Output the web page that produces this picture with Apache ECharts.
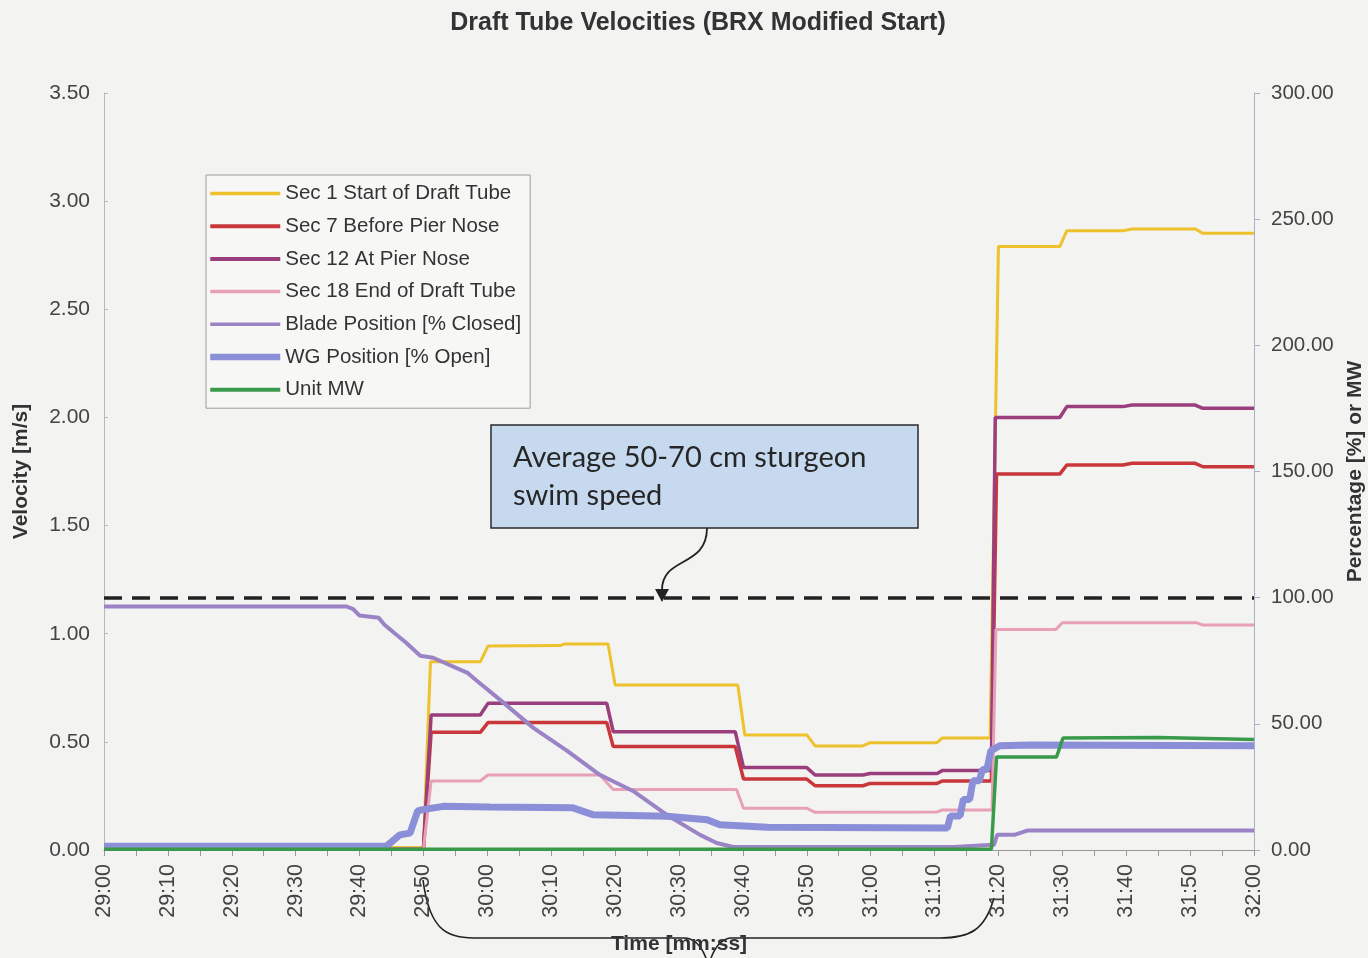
<!DOCTYPE html>
<html>
<head>
<meta charset="utf-8">
<title>Draft Tube Velocities</title>
<script src="https://cdn.jsdelivr.net/npm/echarts@6/dist/echarts.min.js"></script>
<style>
  html, body { margin: 0; padding: 0; background: #f3f3f1; }
  #chart { width: 1368px; height: 958px; }
</style>
</head>
<body>
<div id="chart"></div>
<script>
// time is seconds after 29:00
var secOneT = [0, 20, 21, 30, 31, 50, 51.1, 58.9, 60.1, 71.4, 72, 78.9, 80, 99.2, 100.3, 110, 111.3, 118.8, 119.9, 130.4, 131.2, 138.7, 140, 149.6, 150.7, 159.5, 160.9, 170.8, 172, 180]
var secOneV = [0.012, 0.012, 0.005, 0.005, 0.012, 0.012, 0.87, 0.87, 0.943, 0.945, 0.952, 0.952, 0.763, 0.763, 0.532, 0.532, 0.481, 0.481, 0.496, 0.496, 0.518, 0.518, 2.79, 2.79, 2.863, 2.863, 2.871, 2.871, 2.851, 2.851]

var secSevenT = [0, 50, 51.2, 58.9, 60.1, 78.7, 79.7, 98.8, 100.1, 110, 111.3, 118.8, 119.9, 130.4, 131.2, 138.9, 139.7, 149.6, 150.7, 159.5, 160.9, 170.8, 172, 180]
var secSevenV = [0.005, 0.005, 0.544, 0.544, 0.589, 0.589, 0.478, 0.478, 0.328, 0.328, 0.297, 0.297, 0.308, 0.308, 0.319, 0.319, 1.738, 1.738, 1.78, 1.78, 1.788, 1.788, 1.772, 1.772]

var secTwelveT = [0, 50, 51.2, 58.9, 60.1, 78.7, 79.7, 98.8, 100.1, 110, 111.3, 118.8, 119.9, 130.4, 131.2, 138.9, 139.5, 149.6, 150.7, 159.5, 160.9, 170.8, 172, 180]
var secTwelveV = [0.005, 0.005, 0.624, 0.624, 0.678, 0.678, 0.547, 0.547, 0.381, 0.381, 0.347, 0.347, 0.354, 0.354, 0.367, 0.367, 2.0, 2.0, 2.05, 2.05, 2.057, 2.057, 2.042, 2.042]

var secEighteenT = [0, 50, 51.2, 58.9, 60.1, 77.6, 79.7, 99, 100.1, 110, 111.3, 130.4, 131.2, 139, 139.6, 149, 150, 171, 172, 180]
var secEighteenV = [0.005, 0.005, 0.319, 0.319, 0.347, 0.347, 0.28, 0.28, 0.193, 0.193, 0.174, 0.176, 0.185, 0.185, 1.02, 1.02, 1.051, 1.051, 1.04, 1.04]

var bladeT = [0, 38, 39, 40, 43, 43.9, 45.4, 47.3, 49.5, 51.5, 56.9, 58.4, 62, 67.2, 72.5, 77.6, 82.8, 88.1, 93.3, 95.9, 98.5, 133, 138.5, 139.3, 139.8, 142.5, 144.5, 180]
var bladeV = [96.5, 96.5, 95.5, 92.9, 92, 89.3, 86.1, 82.1, 77, 76.2, 70.2, 67, 59.5, 48.4, 39.3, 29.8, 23.4, 13.9, 6, 2.8, 1.2, 1.2, 2, 2, 6, 6, 7.7, 7.7]

var wgT = [0, 44.2, 46.3, 47.9, 49.1, 49.9, 53.1, 60.4, 73.4, 76.5, 88.1, 94.4, 96.4, 103.8, 132, 132.5, 134, 134.5, 135.5, 136, 137, 137.5, 138.2, 138.8, 140.2, 145, 180]
var wgV = [1.5, 1.5, 6, 6.7, 15.5, 16, 17.3, 17, 16.7, 14, 13.4, 12, 10, 9, 8.7, 13.5, 13.5, 20, 20, 27.4, 27.4, 31.9, 31.9, 39.3, 41.3, 41.6, 41.3]

var mwT = [0, 138.9, 139.7, 149.1, 150.1, 165, 180]
var mwV = [0.3, 0.3, 36.9, 36.9, 44.4, 44.6, 43.8]

var swimSpeed = 100

var seriesNames = ['Sec 1 Start of Draft Tube', 'Sec 7 Before Pier Nose', 'Sec 12 At Pier Nose', 'Sec 18 End of Draft Tube', 'Blade Position [% Closed]', 'WG Position [% Open]', 'Unit MW']
var legendWidths = [3.5, 4, 4, 3.5, 3.5, 6.5, 4]

var font = 'Arial, "Liberation Sans", sans-serif'

function pairs(ts, vs) {
  return ts.map(function(t, i) { return [t, vs[i]] })
}

function timeLabel(v) {
  if (v % 10 !== 0) return ''
  var s = 29 * 60 + v
  var m = Math.floor(s / 60)
  var sec = s % 60
  return m + ':' + (sec < 10 ? '0' : '') + sec
}

function line(name, data, color, width, axis) {
  return {
    name: name,
    type: 'line',
    yAxisIndex: axis,
    symbol: 'none',
    animation: false,
    data: data,
    itemStyle: { color: color },
    lineStyle: { color: color, width: width }
  }
}

var chart = echarts.init(document.getElementById('chart'))

var series = [
  line(seriesNames[0], pairs(secOneT, secOneV), '#eec22c', 3, 0),
  line(seriesNames[1], pairs(secSevenT, secSevenV), '#c9373b', 3.5, 0),
  line(seriesNames[2], pairs(secTwelveT, secTwelveV), '#9a3e7e', 3.5, 0),
  line(seriesNames[3], pairs(secEighteenT, secEighteenV), '#e8a0b6', 3, 0),
  line(seriesNames[4], pairs(bladeT, bladeV), '#9a84c6', 4, 1),
  line(seriesNames[5], pairs(wgT, wgV), '#8b8fd8', 7, 1),
  line(seriesNames[6], pairs(mwT, mwV), '#3a9a4c', 3.5, 1)
]

series[5].markLine = {
  silent: true,
  symbol: 'none',
  label: { show: false },
  lineStyle: { color: '#222', width: 3.5, type: [18, 10] },
  data: [{ yAxis: swimSpeed }]
}

chart.setOption({
  backgroundColor: '#f3f3f1',
  animation: false,
  textStyle: { fontFamily: font },
  title: {
    text: 'Draft Tube Velocities (BRX Modified Start)',
    top: 6,
    left: 693,
    textAlign: 'center',
    textStyle: { fontFamily: font, fontSize: 25, fontWeight: 'bold', color: '#333' }
  },
  legend: {
    orient: 'vertical',
    left: 206,
    top: 175,
    data: seriesNames.map(function(n, i) {
      return { name: n, lineStyle: { width: legendWidths[i] } }
    }),
    itemWidth: 70,
    itemHeight: 14,
    itemGap: 11.7,
    padding: [8, 9, 8, 1],
    backgroundColor: '#f7f7f6',
    borderColor: '#9a9a9a',
    borderWidth: 1,
    itemStyle: { opacity: 0 },
    textStyle: { fontFamily: font, fontSize: 20.5, color: '#333' }
  },
  grid: { left: 104, right: 114, top: 93, bottom: 108, containLabel: false, outerBoundsMode: 'none' },
  xAxis: {
    type: 'value',
    min: 0,
    max: 180,
    interval: 5,
    name: 'Time [mm:ss]',
    nameLocation: 'middle',
    nameGap: 84,
    nameTextStyle: { fontFamily: font, fontSize: 21, fontWeight: 'bold', color: '#333' },
    axisLine: { lineStyle: { color: '#999' } },
    axisTick: { length: 6, lineStyle: { color: '#999' } },
    axisLabel: {
      rotate: 90,
      margin: 14,
      fontFamily: font,
      fontSize: 21.5,
      color: '#444',
      showMinLabel: true,
      showMaxLabel: true,
      formatter: timeLabel
    },
    splitLine: { show: false }
  },
  yAxis: [
    {
      type: 'value',
      min: 0,
      max: 3.5,
      interval: 0.5,
      name: 'Velocity [m/s]',
      nameLocation: 'middle',
      nameGap: 72,
      nameTextStyle: { fontFamily: font, fontSize: 21, fontWeight: 'bold', color: '#333' },
      axisLine: { show: true, lineStyle: { color: '#b8b8b8' } },
      axisTick: { show: true, inside: true, length: 4, lineStyle: { color: '#b8b8b8' } },
      axisLabel: {
        margin: 14,
        fontFamily: font,
        fontSize: 21,
        color: '#444',
        formatter: function(v) { return v.toFixed(2) }
      },
      splitLine: { show: false }
    },
    {
      type: 'value',
      min: 0,
      max: 300,
      interval: 50,
      position: 'right',
      name: 'Percentage [%] or MW',
      nameLocation: 'middle',
      nameGap: 86,
      nameRotate: 90,
      nameTextStyle: { fontFamily: font, fontSize: 21, fontWeight: 'bold', color: '#333' },
      axisLine: { show: true, lineStyle: { color: '#a8b4c4' } },
      axisTick: { show: true, length: 6, lineStyle: { color: '#a8b4c4' } },
      axisLabel: {
        margin: 17,
        fontFamily: font,
        fontSize: 20.5,
        color: '#444',
        formatter: function(v) { return v.toFixed(2) }
      },
      splitLine: { show: false }
    }
  ],
  series: series,
  graphic: [
    {
      type: 'rect',
      shape: { x: 491, y: 425, width: 427, height: 103 },
      style: { fill: '#c6d9ef', stroke: '#2a2a2a', lineWidth: 1.5 },
      z: 10
    },
    {
      type: 'text',
      x: 513,
      y: 439,
      style: {
        text: 'Average 50-70 cm sturgeon\nswim speed',
        font: '29px Lato',
        lineHeight: 38,
        fill: '#262626'
      },
      z: 11
    },
    {
      type: 'bezierCurve',
      shape: { x1: 707, y1: 528, cpx1: 707, cpy1: 568, cpx2: 662, cpy2: 556, x2: 662, y2: 590 },
      style: { stroke: '#222', lineWidth: 1.8, fill: null },
      z: 10
    },
    {
      type: 'polygon',
      shape: { points: [[655, 589], [669, 589], [662, 602]] },
      style: { fill: '#222' },
      z: 10
    },
    {
      type: 'group',
      z: 10,
      children: [
        { type: 'bezierCurve', shape: { x1: 423, y1: 880, cpx1: 430, cpy1: 935, cpx2: 450, cpy2: 938, x2: 480, y2: 938 }, style: { stroke: '#222', lineWidth: 1.6, fill: null } },
        { type: 'line', shape: { x1: 480, y1: 938, x2: 684, y2: 938 }, style: { stroke: '#222', lineWidth: 1.6 } },
        { type: 'bezierCurve', shape: { x1: 684, y1: 938, cpx1: 696, cpy1: 938, cpx2: 702, cpy2: 948, x2: 706, y2: 958 }, style: { stroke: '#222', lineWidth: 1.6, fill: null } },
        { type: 'bezierCurve', shape: { x1: 994, y1: 898, cpx1: 985, cpy1: 930, cpx2: 970, cpy2: 938, x2: 940, y2: 938 }, style: { stroke: '#222', lineWidth: 1.6, fill: null } },
        { type: 'line', shape: { x1: 940, y1: 938, x2: 730, y2: 938 }, style: { stroke: '#222', lineWidth: 1.6 } },
        { type: 'bezierCurve', shape: { x1: 730, y1: 938, cpx1: 719, cpy1: 940, cpx2: 714, cpy2: 950, x2: 711, y2: 958 }, style: { stroke: '#222', lineWidth: 1.6, fill: null } }
      ]
    }
  ]
})
</script>
</body>
</html>
